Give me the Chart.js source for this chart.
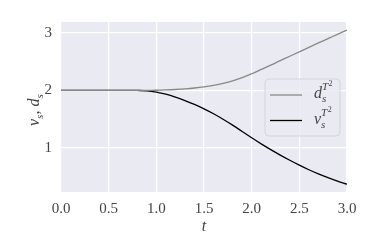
<!DOCTYPE html>
<html>
<head>
<meta charset="utf-8">
<script src="https://cdn.jsdelivr.net/npm/chart.js@4.4.1/dist/chart.umd.min.js"></script>
<style>
html, body { margin: 0; padding: 0; background: #fff; }
</style>
</head>
<body>
<canvas id="chart" width="374" height="249"></canvas>
<script>
// t grid and the two curves
var tVals = [0, 0.1, 0.2, 0.3, 0.4, 0.5, 0.6, 0.7, 0.8, 0.9, 1.0, 1.1, 1.2, 1.3, 1.4, 1.5,
             1.6, 1.7, 1.8, 1.9, 2.0, 2.1, 2.2, 2.3, 2.4, 2.5, 2.6, 2.7, 2.8, 2.9, 3.0];
var dVals = [2, 2, 2, 2, 2, 2, 2, 2, 2, 2.001, 2.004, 2.009, 2.017, 2.028, 2.043, 2.063,
             2.089, 2.122, 2.165, 2.222, 2.29, 2.365, 2.44, 2.518, 2.595, 2.672, 2.75, 2.826, 2.90, 2.975, 3.05];
var vVals = [2, 2, 2, 2, 2, 2, 2, 2, 2, 1.994, 1.972, 1.935, 1.885, 1.825, 1.757, 1.68,
             1.595, 1.50, 1.397, 1.287, 1.177, 1.072, 0.972, 0.877, 0.787, 0.702, 0.622, 0.55, 0.485, 0.425, 0.37];
var xTicks = [0, 0.5, 1, 1.5, 2, 2.5, 3];
var yTicks = [1, 2, 3];
var seriesNames = ['d', 'v'];   // drawn as d_s^{T2}, v_s^{T2}

var serif = "'Liberation Serif', 'DejaVu Serif', serif";
var tickColor = '#444';

function pts(ys) {
    var out = [];
    for (var i = 0; i < tVals.length; i++) out.push({x: tVals[i], y: ys[i]});
    return out;
}

// draw a letter with subscript (and optional superscript) at x, baseline y
function drawSym(ctx, x, y, main, sub, sup, size) {
    ctx.font = 'italic ' + size + 'px ' + serif;
    ctx.fillText(main, x, y);
    var w = ctx.measureText(main).width;
    ctx.font = 'italic ' + Math.round(size * 0.7) + 'px ' + serif;
    ctx.fillText(sub, x + w, y + 4);
    var ws = ctx.measureText(sub).width;
    var wp = 0;
    if (sup) {
        ctx.fillText('T', x + w, y - 8);
        wp = ctx.measureText('T').width;
        ctx.font = Math.round(size * 0.5) + 'px ' + serif;
        ctx.fillText('2', x + w + wp + 0.5, y - 12);
        wp += ctx.measureText('2').width + 0.5;
    }
    return w + Math.max(ws, wp);
}

var decor = {
    id: 'decor',
    beforeDraw: function(chart) {
        var a = chart.chartArea, ctx = chart.ctx;
        ctx.save();
        ctx.fillStyle = '#EAEAF2';
        ctx.fillRect(a.left, a.top, a.right - a.left, a.bottom - a.top);
        ctx.restore();
    },
    afterDraw: function(chart) {
        var ctx = chart.ctx;
        ctx.save();
        // y axis title v_s, d_s
        ctx.translate(34, 108);
        ctx.rotate(-Math.PI / 2);
        ctx.fillStyle = tickColor;
        ctx.textBaseline = 'alphabetic';
        ctx.textAlign = 'left';
        var x = -18;
        x += drawSym(ctx, x, 5, 'v', 's', false, 16);
        ctx.font = '16px ' + serif;
        ctx.fillText(',', x, 5);
        x += ctx.measureText(', ').width;
        drawSym(ctx, x, 5, 'd', 's', false, 16);
        ctx.restore();

        // legend box inside the plot
        ctx.save();
        ctx.beginPath();
        ctx.roundRect(265, 79, 75, 57, 4);
        ctx.fillStyle = 'rgba(234,234,242,0.8)';
        ctx.fill();
        ctx.strokeStyle = '#d4d4dc';
        ctx.lineWidth = 1;
        ctx.stroke();
        var rows = [95, 120.5];
        chart.data.datasets.forEach(function(ds, i) {
            ctx.beginPath();
            ctx.moveTo(270, rows[i]);
            ctx.lineTo(302, rows[i]);
            ctx.strokeStyle = ds.borderColor;
            ctx.lineWidth = 1.3;
            ctx.stroke();
            ctx.fillStyle = tickColor;
            drawSym(ctx, 314, rows[i] + 3, seriesNames[i], 's', true, 16);
        });
        ctx.restore();
    }
};

new Chart(document.getElementById('chart').getContext('2d'), {
    type: 'line',
    data: {
        datasets: [{
            label: 'd',
            data: pts(dVals),
            borderColor: '#888888',
            borderWidth: 1.3,
            pointRadius: 0,
            tension: 0.4
        }, {
            label: 'v',
            data: pts(vVals),
            borderColor: '#000000',
            borderWidth: 1.3,
            pointRadius: 0,
            tension: 0.4
        }]
    },
    options: {
        responsive: false,
        animation: false,
        devicePixelRatio: 1,
        layout: { padding: { left: 0, right: 27, top: 22, bottom: 0 } },
        plugins: { legend: { display: false }, tooltip: { enabled: false } },
        scales: {
            x: {
                type: 'linear',
                min: 0,
                max: 3,
                afterBuildTicks: function(s) { s.ticks = xTicks.map(function(v) { return {value: v}; }); },
                afterFit: function(s) { s.height = 57; },
                ticks: {
                    padding: 8,
                    color: tickColor,
                    font: { family: serif, size: 15 },
                    maxRotation: 0,
                    callback: function(v) { return Number(v).toFixed(1); }
                },
                grid: { color: '#ffffff', lineWidth: 1.2, drawTicks: false },
                border: { display: false },
                title: {
                    display: true,
                    text: 't',
                    color: tickColor,
                    font: { family: serif, size: 16, style: 'italic' },
                    padding: { top: 0, bottom: 13 }
                }
            },
            y: {
                min: 0.235,
                max: 3.19,
                afterBuildTicks: function(s) { s.ticks = yTicks.map(function(v) { return {value: v}; }); },
                afterFit: function(s) { s.width = 61; },
                ticks: {
                    padding: 9,
                    color: tickColor,
                    font: { family: serif, size: 15 }
                },
                grid: { color: '#ffffff', lineWidth: 1.2, drawTicks: false },
                border: { display: false }
            }
        }
    },
    plugins: [decor]
});
</script>
</body>
</html>
